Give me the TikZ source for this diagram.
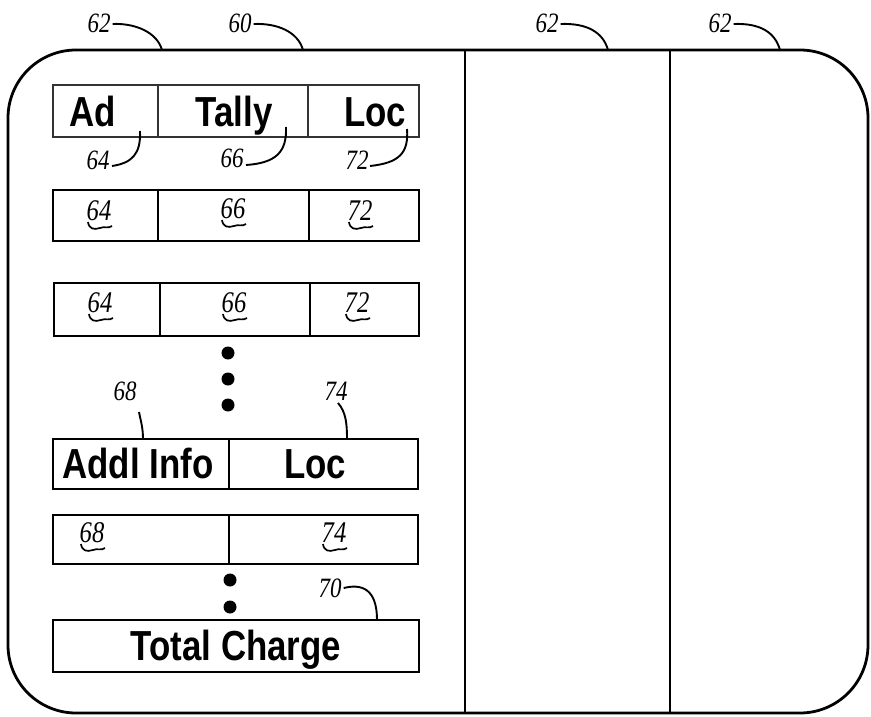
\documentclass[tikz,border=0pt]{standalone}
\usepackage{fontspec}
\newfontfamily\hdfont[FakeStretch=0.83]{Liberation Sans}
\newfontfamily\numfont[FakeStretch=0.82]{Liberation Serif}
\begin{document}
\begin{tikzpicture}[x=1pt,y=-1pt,
  frame/.style={line width=2.8pt},
  divider/.style={line width=2.2pt},
  cell/.style={draw,line width=1.8pt,rectangle,inner sep=0pt},
  thincell/.style={draw,line width=1.1pt,rectangle,inner sep=0pt,draw=black!80},
  hd/.style={font=\hdfont\bfseries\fontsize{42}{42}\selectfont,anchor=base,inner sep=0pt},
  num/.style={font=\numfont\itshape\fontsize{28}{28}\selectfont,inner sep=0pt},
  unum/.style={font=\numfont\itshape\fontsize{30}{30}\selectfont,inner sep=0pt},
  leader/.style={line width=1.9pt},
  squig/.style={line width=1.7pt},
  dot/.style={circle,fill=black,inner sep=0pt,minimum size=13pt}
]
\useasboundingbox (0,0) rectangle (871,717);
% outer frame
\draw[frame,rounded corners=68pt] (8,50) rectangle (868,713);
\coordinate (v1t) at (465,50); \coordinate (v1b) at (465,713);
\coordinate (v2t) at (670,50); \coordinate (v2b) at (670,713);
\draw[divider] (v1t) -- (v1b);
\draw[divider] (v2t) -- (v2b);

% top labels
\node[num] (l62a) at (99,23) {62};
\node[num] (l60) at (240,23) {60};
\node[num] (l62b) at (547,23) {62};
\node[num] (l62c) at (720,23) {62};
\coordinate (t62a) at (162,50);
\coordinate (t60) at (303,50);
\coordinate (t62b) at (608,50);
\coordinate (t62c) at (780,50);
\draw[leader] (l62a.east) ++(2,1) .. controls +(22,-1) and (157,32) .. (t62a);
\draw[leader] (l60.east) ++(2,1) .. controls +(24,-1) and (298,32) .. (t60);
\draw[leader] (l62b.east) ++(2,1) .. controls +(26,-1) and (603,32) .. (t62b);
\draw[leader] (l62c.east) ++(2,1) .. controls +(26,-1) and (775,32) .. (t62c);

% row 1 header
\node[thincell,minimum width=105pt,minimum height=52pt] (r1a) at (105.5,111) {};
\node[thincell,minimum width=150pt,minimum height=52pt] (r1b) at (233,111) {};
\node[thincell,minimum width=111pt,minimum height=52pt] (r1c) at (363.5,111) {};
\node[hd] (tAd) at (93,126) {Ad};
\node[hd] (tTally) at (234,126) {Tally};
\node[hd] (tLoc) at (375,126) {Loc};
\node[num] (l64) at (98,160) {64};
\node[num] (l66) at (232,158) {66};
\node[num] (l72) at (357,160) {72};
\coordinate (e64) at (140,131);
\coordinate (e66) at (286,127);
\coordinate (e72) at (407,129);
\draw[leader] (112,166) .. controls (132,163) and (141,154) .. (e64);
\draw[leader] (246,165) .. controls (276,163) and (287,152) .. (e66);
\draw[leader] (370,166) .. controls (398,163) and (409,154) .. (e72);

% row 2
\node[cell,minimum width=105pt,minimum height=51pt] (r2a) at (105.5,215.5) {};
\node[cell,minimum width=151pt,minimum height=51pt] (r2b) at (233.5,215.5) {};
\node[cell,minimum width=110pt,minimum height=51pt] (r2c) at (364,215.5) {};
\node[unum] (n2a) at (99,211) {64};
\node[unum] (n2b) at (233,209) {66};
\node[unum] (n2c) at (360,211) {72};

% row 3
\node[cell,minimum width=106pt,minimum height=53pt] (r3a) at (107,309.5) {};
\node[cell,minimum width=150pt,minimum height=53pt] (r3b) at (235,309.5) {};
\node[cell,minimum width=109pt,minimum height=53pt] (r3c) at (364.5,309.5) {};
\node[unum] (n3a) at (100,303) {64};
\node[unum] (n3b) at (234,303) {66};
\node[unum] (n3c) at (357,303) {72};

% dots
\node[dot] (d1) at (228,353) {};
\node[dot] (d2) at (228,379) {};
\node[dot] (d3) at (228,405) {};

% row 4
\node[num] (l68) at (125,391) {68};
\node[num] (l74) at (336,391) {74};
\node[cell,minimum width=176pt,minimum height=50pt] (r4a) at (141,464) {};
\node[cell,minimum width=189pt,minimum height=50pt] (r4b) at (323.5,464) {};
\node[hd] (tAddl) at (138,478) {Addl Info};
\node[hd] (tLoc2) at (315,478) {Loc};
\coordinate (e68) at (143,439);
\coordinate (e74) at (347,439);
\draw[leader] (139,412) .. controls (141,422) and (143,428) .. (e68);
\draw[leader] (338,403) .. controls (346,412) and (347,424) .. (e74);

% row 5
\node[cell,minimum width=176pt,minimum height=49pt] (r5a) at (141,539.5) {};
\node[cell,minimum width=189pt,minimum height=49pt] (r5b) at (323.5,539.5) {};
\node[unum] (n5a) at (92,533) {68};
\node[unum] (n5b) at (334,533) {74};

% dots
\node[dot] (d4) at (230,580) {};
\node[dot] (d5) at (230,607) {};

% row 6
\node[num] (l70) at (330,588) {70};
\node[cell,minimum width=366pt,minimum height=52pt] (r6) at (236,646) {};
\node[hd] (tTotal) at (236,660) {Total Charge};
\coordinate (e70) at (377,620);
\draw[leader] (l70.east) ++(2,0) .. controls (368,582) and (377,596) .. (e70);

% squiggly underlines
\foreach \n in {n2a,n2b,n2c,n3a,n3b,n3c,n5a,n5b}{
  \draw[squig] ([shift={(-11,11)}]\n.center)
     .. controls ([shift={(-10,18)}]\n.center) and ([shift={(-5,19)}]\n.center) .. ([shift={(1,17)}]\n.center)
     .. controls ([shift={(5,15)}]\n.center) and ([shift={(9,18)}]\n.center) .. ([shift={(13,15)}]\n.center);
}
\end{tikzpicture}
\end{document}
